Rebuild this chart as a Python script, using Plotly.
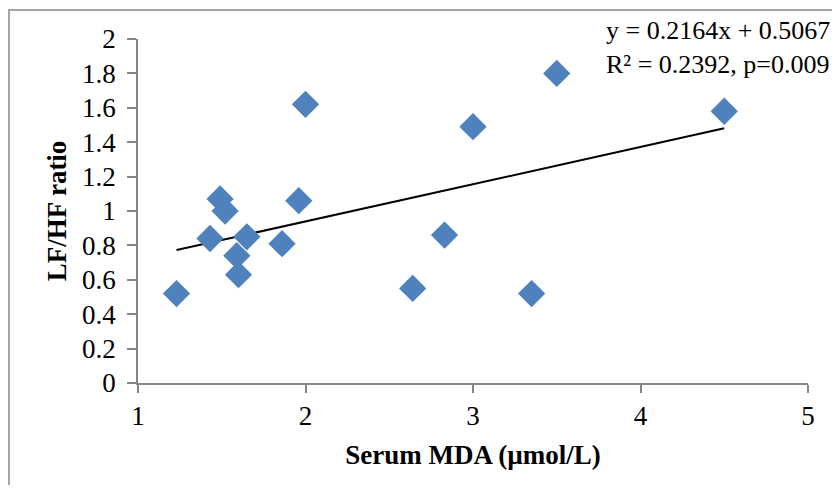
import plotly.graph_objects as go

# Data
serum_mda = [1.23, 1.43, 1.49, 1.52, 1.59, 1.60, 1.65, 1.86, 1.96, 2.00, 2.64, 2.83, 3.00, 3.35, 3.50, 4.50]
lf_hf_ratio = [0.52, 0.84, 1.07, 1.00, 0.74, 0.63, 0.85, 0.81, 1.06, 1.62, 0.55, 0.86, 1.49, 0.52, 1.80, 1.58]
slope = 0.2164
intercept = 0.5067
x_ticks = [1, 2, 3, 4, 5]
y_ticks = [0, 0.2, 0.4, 0.6, 0.8, 1, 1.2, 1.4, 1.6, 1.8, 2]
y_tick_labels = ["0", "0.2", "0.4", "0.6", "0.8", "1", "1.2", "1.4", "1.6", "1.8", "2"]

trend_x = [min(serum_mda), max(serum_mda)]
trend_y = [slope * v + intercept for v in trend_x]

FONT = "Liberation Serif, Times New Roman, serif"
AXIS_COLOR = "#868686"
FS = 27

fig = go.Figure()
fig.add_trace(go.Scatter(
    x=trend_x, y=trend_y, mode="lines",
    line=dict(color="black", width=2), showlegend=False, hoverinfo="skip"))
fig.add_trace(go.Scatter(
    x=serum_mda, y=lf_hf_ratio, mode="markers",
    marker=dict(symbol="diamond", size=21, color="#4F81BD", line=dict(width=0)),
    showlegend=False))

# page body has an 8px margin; keep the figure inside the viewport (no scrollbars)
OFF = 8
W, H = 840 - 2 * OFF, 493 - 2 * OFF
ml, mt = 138 - OFF, 39 - OFF
mr = W - (808 - OFF)
mb = H - (383 - OFF)
pw, ph = W - ml - mr, H - mt - mb

def px_x(px):
    return (px - OFF - ml) / pw

def px_y(py):
    return (H - mb - (py - OFF)) / ph

fig.update_layout(
    width=W, height=H,
    margin=dict(l=ml, r=mr, t=mt, b=mb, autoexpand=False),
    paper_bgcolor="white", plot_bgcolor="white",
    font=dict(family=FONT, size=FS, color="black"),
    xaxis=dict(
        range=[1, 5], tickvals=x_ticks, ticktext=[str(v) for v in x_ticks],
        showgrid=False, zeroline=False,
        showline=True, linecolor=AXIS_COLOR, linewidth=1.5,
        ticks="outside", ticklen=8, tickcolor=AXIS_COLOR, tickwidth=1.5,
        tickfont=dict(family=FONT, size=FS),
        title=dict(text="<b>Serum MDA (µmol/L)</b>", font=dict(family=FONT, size=FS), standoff=15),
    ),
    yaxis=dict(
        range=[0, 2], tickvals=y_ticks, ticktext=y_tick_labels,
        showgrid=False, zeroline=False,
        showline=True, linecolor=AXIS_COLOR, linewidth=1.5,
        ticks="outside", ticklen=9, tickcolor=AXIS_COLOR, tickwidth=1.5,
        tickfont=dict(family=FONT, size=FS),
        ticklabelstandoff=6,
        title=dict(text="<b>LF/HF ratio</b>", font=dict(family=FONT, size=FS), standoff=8),
    ),
    annotations=[dict(
        xref="paper", yref="paper", x=px_x(604), y=px_y(47),
        xanchor="left", yanchor="middle", align="left", showarrow=False,
        text="y = 0.2164x + 0.5067<br>R² = 0.2392, p=0.009",
        font=dict(family=FONT, size=26, color="black"),
    )],
    shapes=[dict(
        type="rect", xref="paper", yref="paper",
        x0=px_x(9), x1=px_x(860),
        y0=px_y(520), y1=px_y(10),
        line=dict(color="#A6A6A6", width=2), layer="below")],
)

fig.write_html("out.html")
